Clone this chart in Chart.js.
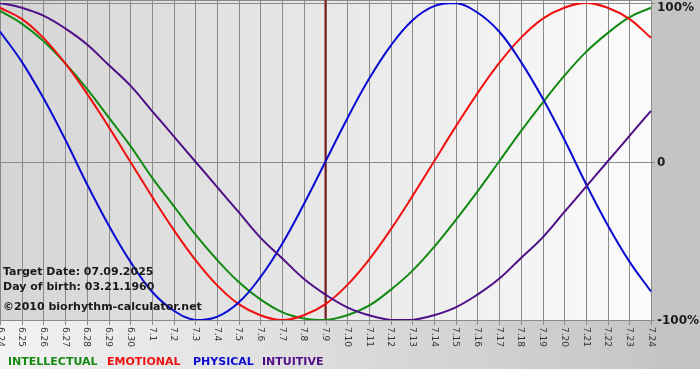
<!DOCTYPE html>
<html><head><meta charset="utf-8">
<script src="https://cdn.jsdelivr.net/npm/chart.js@4/dist/chart.umd.min.js"></script>
<style>html,body{margin:0;padding:0;background:#fff;}canvas{display:block;}</style>
</head><body>
<canvas id="c" width="700" height="380"></canvas>
<script>
const dates = ['6.24','6.25','6.26','6.27','6.28','6.29','6.30','7.1','7.2','7.3','7.4','7.5','7.6','7.7','7.8','7.9','7.10','7.11','7.12','7.13','7.14','7.15','7.16','7.17','7.18','7.19','7.20','7.21','7.22','7.23','7.24'];
const intellectual = [0.95,0.87,0.76,0.62,0.46,0.28,0.10,-0.10,-0.28,-0.46,-0.62,-0.76,-0.87,-0.95,-0.99,-1.00,-0.97,-0.91,-0.81,-0.69,-0.54,-0.37,-0.19,0,0.19,0.37,0.54,0.69,0.81,0.91,0.97];
const emotional = [0.97,0.90,0.78,0.62,0.43,0.22,0,-0.22,-0.43,-0.62,-0.78,-0.90,-0.97,-1.00,-0.97,-0.90,-0.78,-0.62,-0.43,-0.22,0,0.22,0.43,0.62,0.78,0.90,0.97,1.00,0.97,0.90,0.78];
const physical = [0.82,0.63,0.40,0.14,-0.14,-0.40,-0.63,-0.82,-0.94,-1.00,-0.98,-0.89,-0.73,-0.52,-0.27,0,0.27,0.52,0.73,0.89,0.98,1.00,0.94,0.82,0.63,0.40,0.14,-0.14,-0.40,-0.63,-0.82];
const intuitive = [1.00,0.97,0.92,0.84,0.74,0.61,0.48,0.32,0.16,0,-0.16,-0.32,-0.48,-0.61,-0.74,-0.84,-0.92,-0.97,-1.00,-1.00,-0.97,-0.92,-0.84,-0.74,-0.61,-0.48,-0.32,-0.16,0,0.16,0.32];
const yTickValues = [1, 0, -1];
const yTickLabels = ['100%', '0', '-100%'];
const targetIndex = 15;
const infoLines = ['Target Date: 07.09.2025', 'Day of birth: 03.21.1960'];
const copyright = '\u00A92010 biorhythm-calculator.net';
const legendNames = ['INTELLECTUAL', 'EMOTIONAL', 'PHYSICAL', 'INTUITIVE'];

const colors = { intellectual: '#138a13', emotional: '#f01010', physical: '#0a0ad2', intuitive: '#4e0f86' };
const legendColors = ['#138a13', '#f01010', '#0a0ad2', '#4e0f86'];

const bgPlugin = {
  id: 'bg',
  beforeDatasetsDraw(chart) {
    const ctx = chart.ctx, a = chart.chartArea, x = chart.scales.x, y = chart.scales.y;
    const W = chart.width, H = chart.height;
    ctx.save();
    ctx.fillStyle = '#ffffff';
    ctx.fillRect(0, 0, W, H);
    let g = ctx.createLinearGradient(0, 0, W, 0);
    g.addColorStop(0, '#f2f2f2');
    g.addColorStop(0.93, '#c6c6c6');
    g.addColorStop(1, '#c4c4c4');
    ctx.fillStyle = g;
    ctx.fillRect(0, a.bottom, W, 369 - a.bottom);
    ctx.fillStyle = '#c4c4c4';
    ctx.fillRect(a.right, 0, W - a.right, 369);
    g = ctx.createLinearGradient(a.left, 0, a.right, 0);
    g.addColorStop(0, '#d5d5d5');
    g.addColorStop(1, '#fbfbfb');
    ctx.fillStyle = g;
    ctx.fillRect(a.left, 0, a.right - a.left, a.bottom);
    ctx.strokeStyle = '#8a8a8a';
    ctx.lineWidth = 1;
    for (let i = 0; i < dates.length; i++) {
      const px = Math.round(x.getPixelForValue(i)) + 0.5;
      ctx.beginPath();
      ctx.moveTo(px, 0);
      ctx.lineTo(px, a.bottom + 5);
      ctx.stroke();
    }
    ctx.beginPath();
    ctx.moveTo(a.left, 0.5);
    ctx.lineTo(a.right, 0.5);
    ctx.stroke();
    yTickValues.forEach(v => {
      const py = Math.round(y.getPixelForValue(v)) + 0.5;
      ctx.beginPath();
      ctx.moveTo(a.left, py);
      ctx.lineTo(a.right + 4, py);
      ctx.stroke();
    });
    const tx = x.getPixelForValue(targetIndex);
    ctx.strokeStyle = '#7d1c1c';
    ctx.lineWidth = 2;
    ctx.beginPath();
    ctx.moveTo(tx, 0);
    ctx.lineTo(tx, a.bottom);
    ctx.stroke();
    ctx.fillStyle = '#333333';
    ctx.font = '9px "DejaVu Sans", Verdana, sans-serif';
    ctx.textAlign = 'left';
    ctx.textBaseline = 'middle';
    for (let i = 0; i < dates.length; i++) {
      const px = x.getPixelForValue(i);
      ctx.save();
      ctx.translate(px, a.bottom + 7);
      ctx.rotate(Math.PI / 2);
      ctx.fillText(dates[i], 0, 0);
      ctx.restore();
    }
    ctx.fillStyle = '#1a1a1a';
    ctx.font = 'bold 12px "DejaVu Sans", Verdana, sans-serif';
    ctx.textBaseline = 'middle';
    yTickValues.forEach((v, k) => {
      const py = Math.max(y.getPixelForValue(v) + 1, 8);
      ctx.fillText(yTickLabels[k], a.right + 6, py);
    });
    ctx.font = 'bold 11px "DejaVu Sans", Verdana, sans-serif';
    const lx = [8, 107, 193, 262];
    legendNames.forEach((n, k) => {
      ctx.fillStyle = legendColors[k];
      ctx.fillText(n, lx[k], 362);
    });
    ctx.restore();
  },
  afterDatasetsDraw(chart) {
    const ctx = chart.ctx;
    ctx.save();
    ctx.fillStyle = '#1a1a1a';
    ctx.font = 'bold 11px "DejaVu Sans", Verdana, sans-serif';
    ctx.textAlign = 'left';
    ctx.textBaseline = 'middle';
    ctx.fillText(infoLines[0], 3, 272);
    ctx.fillText(infoLines[1], 3, 287);
    ctx.fillText(copyright, 3, 307);
    ctx.restore();
  }
};

const mk = (label, data, color) => ({
  label, data, borderColor: color, backgroundColor: color, borderWidth: 2,
  pointRadius: 0, tension: 0.4, fill: false
});

new Chart(document.getElementById('c'), {
  type: 'line',
  data: {
    labels: dates,
    datasets: [
      mk('INTUITIVE', intuitive, colors.intuitive),
      mk('PHYSICAL', physical, colors.physical),
      mk('EMOTIONAL', emotional, colors.emotional),
      mk('INTELLECTUAL', intellectual, colors.intellectual)
    ]
  },
  options: {
    responsive: false,
    animation: false,
    devicePixelRatio: 1,
    layout: { padding: { left: 0, top: 3, right: 49, bottom: 60 } },
    plugins: { legend: { display: false }, tooltip: { enabled: false } },
    scales: {
      x: { display: false, offset: false },
      y: { display: false, min: -1, max: 1 }
    }
  },
  plugins: [bgPlugin]
});
</script>
</body></html>
